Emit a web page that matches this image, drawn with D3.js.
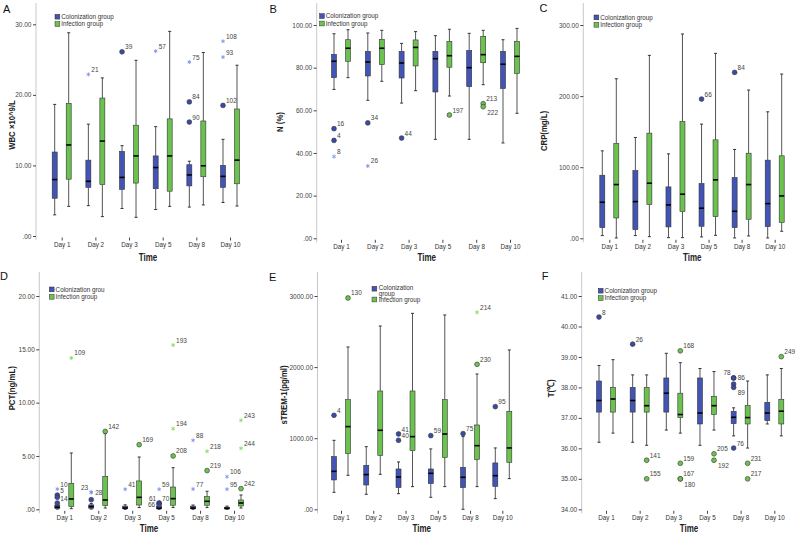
<!DOCTYPE html>
<html><head><meta charset="utf-8">
<script src="https://cdn.jsdelivr.net/npm/d3@7"></script>
<style>
body{margin:0;background:#fff}
svg{display:block}
text{font-family:"Liberation Sans",Arial,sans-serif}
</style>
</head><body>
<svg id="c" width="800" height="533"></svg>
<script>
const days = ["Day 1","Day 2","Day 3","Day 5","Day 8","Day 10"];
const groups = ["Colonization group","Infection group"];

// each entry: [min, q1, median, q3, max] per day
const wbcColon  = [[3.0,5.35,8.0,11.9,18.65],[4.3,6.9,7.75,10.75,15.85],[3.9,6.6,8.3,12.0,12.8],[3.75,6.7,9.7,11.35,15.5],[4.1,7.1,8.65,10.1,10.6],[4.75,6.9,8.45,10.0,13.7]];
const wbcInfect = [[4.2,8.05,12.9,18.8,28.8],[2.75,7.3,13.45,19.55,22.4],[2.65,7.5,11.35,15.7,24.9],[4.2,6.35,11.35,16.6,29.0],[4.4,8.4,9.95,16.3,26.0],[4.25,7.4,10.75,18.0,24.2]];
const wbcOutliers = [
  ["Day 2",0,22.9,"*","21"],["Day 3",0,26.1,"o","39"],["Day 5",0,26.2,"*","57"],
  ["Day 8",0,24.65,"*","75"],["Day 8",0,19.0,"o","84"],["Day 8",0,16.15,"o","90"],
  ["Day 10",0,27.6,"*","108"],["Day 10",0,25.35,"*","93"],["Day 10",0,18.5,"o","102"]
];

const nColon  = [[69.8,75.3,83.0,86.25,95.9],[64.7,76.1,82.65,87.65,96.25],[63.4,75.15,82.2,87.65,91.4],[46.4,68.6,84.2,87.65,95.0],[46.4,71.1,80.0,88.1,96.1],[44.7,70.2,81.6,87.65,93.1]];
const nInfect = [[75.3,83.0,89.1,93.1,97.8],[73.6,81.4,89.1,93.3,97.5],[69.2,80.8,89.5,93.0,96.9],[66.7,80.2,85.6,92.3,98.0],[72.0,82.3,86.1,94.7,97.5],[58.6,77.3,85.3,92.3,98.4]];
const nOutliers = [
  ["Day 1",0,51.4,"o","16"],["Day 1",0,45.9,"o","4"],["Day 1",0,38.3,"*","8"],
  ["Day 2",0,54.1,"o","34"],["Day 2",0,33.9,"*","26"],["Day 3",0,47.0,"o","44"],
  ["Day 5",1,57.8,"o","197"],["Day 8",1,63.1,"o","213"],["Day 8",1,61.7,"o","222","dr"]
];

const crpColon  = [[3.8,15.0,50.7,88.7,123],[3.8,12.2,51.6,95.3,141.8],[0.9,16.0,46.9,72.3,118.8],[1.9,16.9,42.3,77.0,160.6],[0.5,15.0,38.0,85.4,124.9],[0.5,16.4,48.8,109.9,177.9]];
const crpInfect = [[0.5,28.6,75.6,133.3,224.4],[2.3,47.4,77.5,147.9,257.3],[0.9,37.6,62.0,164.3,287.3],[4.2,30.5,82.2,138.5,260.1],[3.3,26.8,75.6,119.7,208.5],[9.9,22.5,59.6,116.0,231.0]];
const crpOutliers = [["Day 5",0,195.8,"o","66"],["Day 8",0,233.3,"o","84"]];

const pctColon  = [[0.02,0.08,0.2,0.4,0.48],[0.02,0.1,0.25,0.42,0.55],[0.0,0.05,0.12,0.3,0.42],[0.0,0.04,0.12,0.25,0.3],[0.0,0.05,0.12,0.3,0.4],[0.0,0.03,0.1,0.2,0.3]];
const pctInfect = [[0.06,0.25,0.97,2.44,5.28],[0.12,0.34,0.87,3.09,7.1],[0.16,0.4,1.12,2.66,4.9],[0.16,0.38,1.0,2.09,3.9],[0.16,0.38,0.75,1.19,1.69],[0.12,0.31,0.59,0.875,1.34]];
const pctOutliers = [
  ["Day 1",0,1.9,"*","10"],["Day 1",0,1.33,"o","5"],["Day 1",0,1.12,"o",""],["Day 1",0,0.58,"o","14"],
  ["Day 1",1,14.19,"*","109"],
  ["Day 2",0,1.6,"*","23","ul"],["Day 2",0,1.6,"*","28","r"],["Day 2",0,0.9,"o",""],
  ["Day 2",1,7.3,"o","142"],
  ["Day 3",0,1.88,"*","41"],["Day 3",1,6.06,"o","169"],
  ["Day 5",0,1.88,"*","59"],["Day 5",0,0.58,"o","61","ul"],["Day 5",0,0.58,"o","70"],["Day 5",0,0.4,"o","66","l"],
  ["Day 5",1,15.4,"*","193"],["Day 5",1,7.56,"*","194"],["Day 5",1,5.0,"o","208"],
  ["Day 8",0,6.47,"*","88"],["Day 8",0,1.9,"*","77"],
  ["Day 8",1,5.44,"*","218"],["Day 8",1,3.63,"o","219"],
  ["Day 10",0,3.06,"*","106"],["Day 10",0,1.88,"*","95"],
  ["Day 10",1,8.34,"*","243"],["Day 10",1,5.72,"*","244"],["Day 10",1,1.94,"o","242"]
];

const tremColon  = [[239,413,534,741,970],[211,342,488,619,881],[220,305,455,567,666],[169,361,506,567,849],[0,305,450,591,1022],[150,323,473,652,863]];
const tremInfect = [[478,783,1163,1542,2283],[492,759,1111,1664,2578],[319,825,1022,1664,2756],[319,731,1059,1542,2733],[319,703,895,1186,1903],[431,661,863,1378,2241]];
const tremOutliers = [
  ["Day 1",0,1322,"o","4"],["Day 1",1,2972,"o","130"],
  ["Day 3",0,1059,"o","41"],["Day 3",0,970,"o","40"],
  ["Day 5",0,1036,"o","59"],["Day 8",0,1064,"o","75"],
  ["Day 8",1,2039,"o","230"],["Day 8",1,2771,"*","214"],["Day 10",0,1444,"o","95"]
];

const tColon  = [[36.2,37.19,37.57,38.21,38.72],[36.2,37.19,37.57,38.0,38.41],[36.6,37.19,37.81,38.31,39.12],[36.1,36.8,37.16,38.31,38.62],[36.41,36.81,37.02,37.21,37.33],[36.8,36.91,37.16,37.51,38.41]];
const tInfect = [[36.5,37.19,37.62,38.0,38.91],[36.1,37.19,37.4,38.0,38.41],[36.5,37.01,37.11,37.81,38.81],[36.6,37.11,37.4,37.71,38.52],[36.01,36.8,37.01,37.4,38.21],[36.41,36.8,37.22,37.61,38.62]];
const tOutliers = [
  ["Day 1",0,40.31,"o","8"],["Day 2",0,39.42,"o","26"],
  ["Day 2",1,35.61,"o","141"],["Day 2",1,35.0,"o","155"],
  ["Day 3",1,39.2,"o","168"],["Day 3",1,35.51,"o","159"],["Day 3",1,35.0,"o","167"],["Day 3",1,35.0,"o","180","dr"],
  ["Day 5",1,35.82,"o","205"],["Day 5",1,35.61,"o","192","dr"],
  ["Day 8",0,38.31,"o","78","ul"],["Day 8",0,38.31,"o","86","r"],["Day 8",0,38.11,"o",""],["Day 8",0,38.0,"o","89","dr"],
  ["Day 8",0,36.01,"o","76"],["Day 8",1,35.51,"o","231"],["Day 8",1,35.0,"o","217"],
  ["Day 10",1,39.01,"o","249"]
];

const wbcTicks = [0,10,20,30];
const nTicks = [0,20,40,60,80,100];
const crpTicks = [0,100,200,300];
const pctTicks = [0,5,10,15,20];
const tremTicks = [0,1000,2000,3000];
const tTicks = [34,35,36,37,38,39,40,41];

// layout (positions only)
const panels = [
 {letter:"A",lx:3,ly:12.7,title:"WBC ×10^9/L",tx:12,ty:125,axisX:36,y0:236,yTop:24.3,axisTop:3,ticks:wbcTicks,cat:[61.7,230],timeX:148,timeY:260.5,legX:55,legY:14.3,legend:groups,data:[wbcColon,wbcInfect],out:wbcOutliers},
 {letter:"B",lx:269.5,ly:12.7,title:"N (%)",tx:280,ty:122,axisX:316.7,y0:238.3,yTop:25,axisTop:3,ticks:nTicks,cat:[341,510],timeX:426.7,timeY:261,legX:319.5,legY:13.7,legend:groups,data:[nColon,nInfect],out:nOutliers},
 {letter:"C",lx:539.5,ly:11.7,title:"CRP(mg/L)",tx:543.3,ty:131,axisX:583.3,y0:238.3,yTop:25,axisTop:3,ticks:crpTicks,cat:[609.3,774.7],timeX:692.3,timeY:261,legX:594,legY:15,legend:groups,data:[crpColon,crpInfect],out:crpOutliers},
 {letter:"D",lx:0,ly:280,title:"PCT(ng/mL)",tx:11.7,ty:388.3,axisX:39.3,y0:509.3,yTop:296,axisTop:272,ticks:pctTicks,cat:[64.3,234],timeX:149,timeY:531.5,legX:49.3,legY:287,legend:["Colonization grou","Infection group"],data:[pctColon,pctInfect],out:pctOutliers},
 {letter:"E",lx:269,ly:281,title:"sTREM-1(pg/ml)",tx:283.3,ty:395,axisX:317.5,y0:509.3,yTop:296,axisTop:272,ticks:tremTicks,cat:[341,502.3],timeX:421.7,timeY:531.5,legX:372,legY:286.3,legend:["Colonization|group","Infection group"],twoLine:true,data:[tremColon,tremInfect],out:tremOutliers},
 {letter:"F",lx:541.7,ly:280,title:"T(℃)",tx:550.7,ty:388.3,axisX:581.7,y0:509.3,yTop:296,axisTop:272,ticks:tTicks,cat:[606,774.3],timeX:689,timeY:531.5,legX:598.3,legY:288.3,legend:groups,data:[tColon,tInfect],out:tOutliers}
];

const boxFill = ["#4254b5","#6cc24f"];
const ptFill = ["#3b4aa6","#6cc24f"];
const starCol = ["#7f93f0","#7fe05a"];
const fmt = v => v === 0 ? ".00" : v.toFixed(2);
const svg = d3.select("#c");
const offs = [-7, 7];
const BW = 5;

function starPath(r){
  const a = r*0.866, b = r*0.5;
  return `M0,${-r}L0,${r}M${-a},${-b}L${a},${b}M${-a},${b}L${a},${-b}`;
}

panels.forEach(p => {
  const g = svg.append("g");
  const y = d3.scaleLinear().domain([p.ticks[0], p.ticks[p.ticks.length-1]]).range([p.y0, p.yTop]);
  const x = d3.scalePoint().domain(days).range(p.cat);

  // panel letter
  g.append("text").attr("x",p.lx).attr("y",p.ly).attr("font-size",11).attr("fill","#111").text(p.letter);

  // y axis line
  g.append("line").attr("x1",p.axisX).attr("x2",p.axisX).attr("y1",p.axisTop).attr("y2",p.y0+4)
    .attr("stroke","#c9c9c9").attr("stroke-width",1);
  const ya = g.append("g").attr("transform",`translate(${p.axisX},0)`)
    .call(d3.axisLeft(y).tickValues(p.ticks).tickFormat(fmt).tickSize(3).tickPadding(1.5));
  ya.select(".domain").remove();
  ya.selectAll(".tick line").attr("stroke","#444");
  ya.selectAll(".tick text").attr("font-size",6.5).attr("fill","#444").attr("font-family","Liberation Sans, Arial, sans-serif");

  // x axis
  const xa = g.append("g").attr("transform",`translate(0,${p.y0+1.5})`)
    .call(d3.axisBottom(x).tickSize(3).tickPadding(2));
  xa.select(".domain").remove();
  xa.selectAll(".tick line").attr("stroke","#444");
  xa.selectAll(".tick text").attr("font-size",6.3).attr("fill","#333").attr("font-family","Liberation Sans, Arial, sans-serif");

  // axis titles
  g.append("text").attr("transform",`translate(${p.tx},${p.ty}) rotate(-90) scale(0.82,1)`)
    .attr("text-anchor","middle").attr("dominant-baseline","central")
    .attr("font-size",9.5).attr("font-weight","bold").attr("fill","#222").text(p.title);
  g.append("text").attr("transform",`translate(${p.timeX},${p.timeY}) scale(0.8,1)`)
    .attr("text-anchor","middle").attr("font-size",10).attr("font-weight","bold").attr("fill","#222").text("Time");

  // boxes
  p.data.forEach((series, gi) => {
    series.forEach((s, di) => {
      const cx = x(days[di]) + offs[gi];
      const [mn,q1,md,q3,mx] = s;
      const bg = g.append("g");
      bg.append("line").attr("x1",cx).attr("x2",cx).attr("y1",y(mx)).attr("y2",y(q3)).attr("stroke","#555").attr("stroke-width",1);
      bg.append("line").attr("x1",cx).attr("x2",cx).attr("y1",y(q1)).attr("y2",y(mn)).attr("stroke","#555").attr("stroke-width",1);
      bg.append("line").attr("x1",cx-1.5).attr("x2",cx+1.5).attr("y1",y(mx)).attr("y2",y(mx)).attr("stroke","#333").attr("stroke-width",1);
      bg.append("line").attr("x1",cx-1.5).attr("x2",cx+1.5).attr("y1",y(mn)).attr("y2",y(mn)).attr("stroke","#333").attr("stroke-width",1);
      bg.append("rect").attr("x",cx-BW/2).attr("y",y(q3)).attr("width",BW).attr("height",Math.max(0.8,y(q1)-y(q3)))
        .attr("fill",boxFill[gi]).attr("stroke","#333").attr("stroke-width",0.6);
      bg.append("line").attr("x1",cx-BW/2).attr("x2",cx+BW/2).attr("y1",y(md)).attr("y2",y(md)).attr("stroke","#000").attr("stroke-width",1.6);
    });
  });

  // outliers
  p.out.forEach(o => {
    const [day, gi, v, type, lab, pos] = o;
    const cx = x(day) + offs[gi], cy = y(v);
    if (type === "o") {
      g.append("circle").attr("cx",cx).attr("cy",cy).attr("r",2.4)
        .attr("fill",ptFill[gi]).attr("stroke","#333").attr("stroke-width",0.6);
    } else {
      g.append("path").attr("d",starPath(2)).attr("transform",`translate(${cx},${cy})`)
        .attr("stroke",starCol[gi]).attr("stroke-width",0.9).attr("fill","none");
    }
    if (lab) {
      let dx = 3, dy = -2.5, anchor = "start";
      if (pos === "r") { dx = 4; dy = 2.3; }
      else if (pos === "dr") { dx = 4; dy = 8; }
      else if (pos === "ul") { dx = -3; dy = -2.5; anchor = "end"; }
      else if (pos === "l") { dx = -4; dy = 2.3; anchor = "end"; }
      g.append("text").attr("x",cx+dx).attr("y",cy+dy).attr("text-anchor",anchor)
        .attr("font-size",6.5).attr("fill","#444").text(lab);
    }
  });

  // legend
  const lg = g.append("g").attr("transform",`translate(${p.legX},${p.legY})`);
  if (p.twoLine) {
    lg.append("rect").attr("x",0).attr("y",0).attr("width",4.8).attr("height",4.8).attr("fill",boxFill[0]).attr("stroke","#333").attr("stroke-width",0.5);
    const parts = p.legend[0].split("|");
    lg.append("text").attr("x",6.7).attr("y",3.6).attr("font-size",6.3).attr("fill","#333").text(parts[0]);
    lg.append("text").attr("x",6.7).attr("y",9.6).attr("font-size",6.3).attr("fill","#333").text(parts[1]);
    lg.append("rect").attr("x",0).attr("y",10.8).attr("width",4.8).attr("height",4.8).attr("fill",boxFill[1]).attr("stroke","#333").attr("stroke-width",0.5);
    lg.append("text").attr("x",6.7).attr("y",15.5).attr("font-size",6.3).attr("fill","#333").text(p.legend[1]);
  } else {
    p.legend.forEach((t, i) => {
      lg.append("rect").attr("x",0).attr("y",i*7.4).attr("width",4.8).attr("height",4.8).attr("fill",boxFill[i]).attr("stroke","#333").attr("stroke-width",0.5);
      lg.append("text").attr("x",6.3).attr("y",i*7.4+4.6).attr("font-size",6.3).attr("fill","#333").text(t);
    });
  }
});
</script>
</body></html>
